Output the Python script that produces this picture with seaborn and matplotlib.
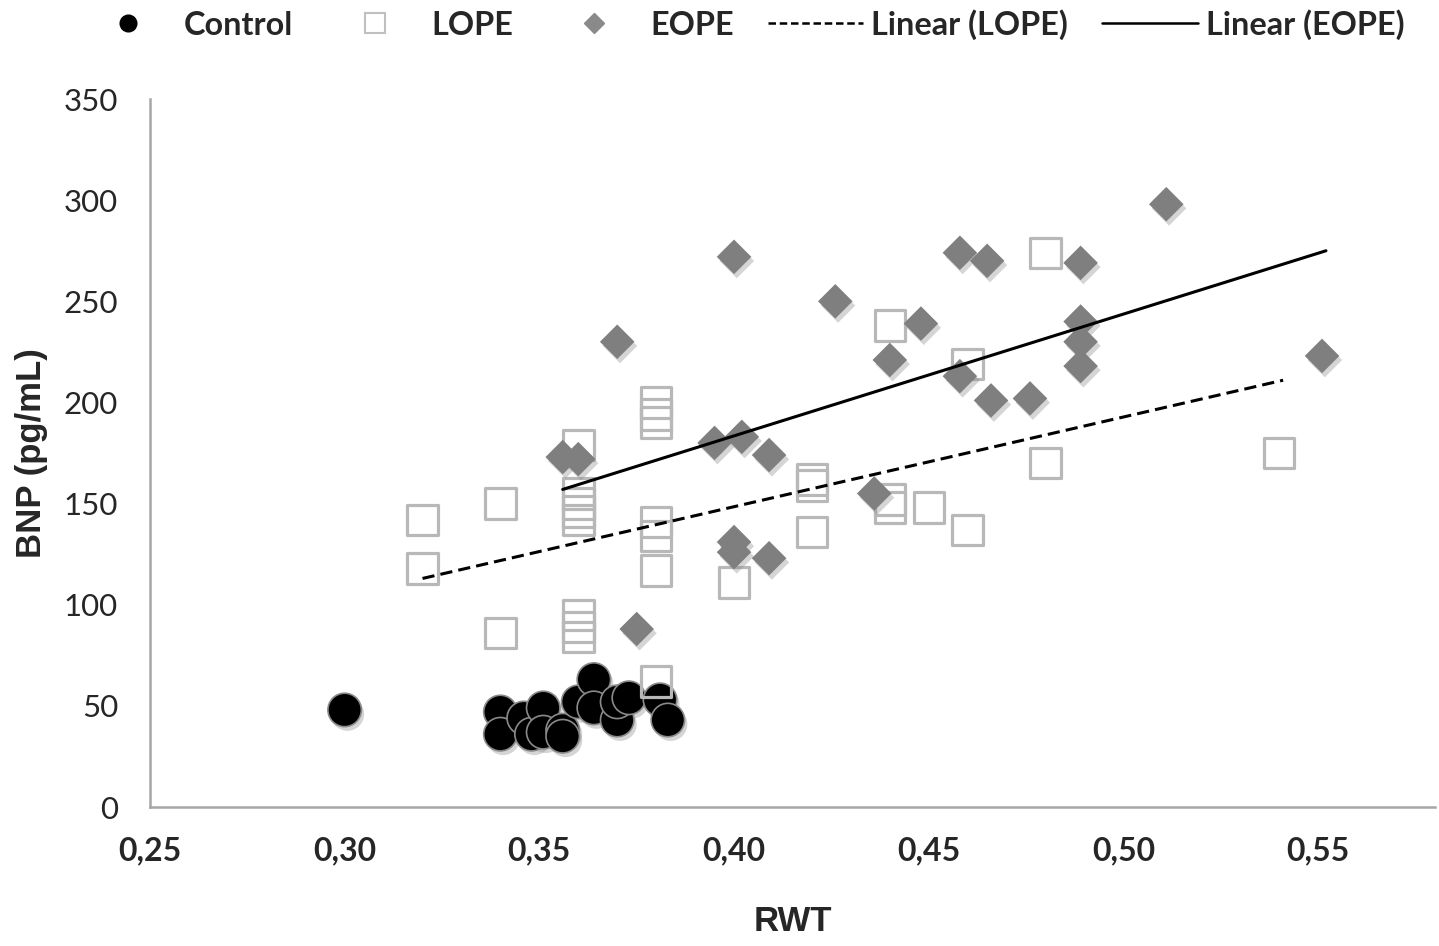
import numpy as np
import pandas as pd
import matplotlib
matplotlib.use('Agg')
import matplotlib.pyplot as plt
import matplotlib.patheffects as pe
from matplotlib.lines import Line2D
import seaborn as sns

# datos (RWT vs BNP)
control_rwt = [0.300, 0.340, 0.340, 0.346, 0.348, 0.351, 0.351, 0.356, 0.356,
               0.360, 0.364, 0.364, 0.370, 0.370, 0.373, 0.381, 0.383]
control_bnp = [48, 47, 36, 44, 36, 49, 37, 38, 35,
               52, 63, 49, 43, 52, 54, 53, 43]

lope_rwt = [0.320, 0.320, 0.340, 0.340, 0.360, 0.360, 0.360, 0.360, 0.360,
            0.360, 0.360, 0.360, 0.380, 0.380, 0.380, 0.380, 0.380, 0.380,
            0.380, 0.400, 0.420, 0.420, 0.420, 0.440, 0.440, 0.440, 0.450,
            0.460, 0.460, 0.480, 0.480, 0.540]
lope_bnp = [142, 118, 150, 86, 179, 155, 150, 146, 142,
            95, 89, 84, 200, 194, 190, 141, 134, 117,
            62, 111, 162, 159, 136, 238, 152, 148, 148,
            219, 137, 274, 170, 175]

eope_rwt = [0.356, 0.360, 0.370, 0.375, 0.395, 0.400, 0.402, 0.400, 0.400,
            0.409, 0.409, 0.426, 0.436, 0.440, 0.448, 0.458, 0.458, 0.465,
            0.466, 0.476, 0.489, 0.489, 0.489, 0.489, 0.511, 0.551]
eope_bnp = [173, 172, 230, 88, 180, 272, 183, 131, 126,
            123, 174, 250, 155, 221, 239, 274, 213, 270,
            201, 202, 269, 240, 230, 218, 298, 223]

# lineas de tendencia (extremos)
lope_fit_rwt = [0.320, 0.541]
lope_fit_bnp = [113, 211]
eope_fit_rwt = [0.356, 0.552]
eope_fit_bnp = [157, 275]

xticks = [0.25, 0.30, 0.35, 0.40, 0.45, 0.50, 0.55]
xticklabels = ['0,25', '0,30', '0,35', '0,40', '0,45', '0,50', '0,55']
yticks = [0, 50, 100, 150, 200, 250, 300, 350]

control = pd.DataFrame({'RWT': control_rwt, 'BNP': control_bnp})
lope = pd.DataFrame({'RWT': lope_rwt, 'BNP': lope_bnp})
eope = pd.DataFrame({'RWT': eope_rwt, 'BNP': eope_bnp})

sns.set_style('white')
plt.rcParams['font.family'] = ['Lato', 'DejaVu Sans']

fig = plt.figure(figsize=(14.39, 9.46), dpi=100)
ax = fig.add_axes([0.1042, 0.1469, 0.8930, 0.7484])

sombra = [pe.SimplePatchShadow(offset=(2, -3), shadow_rgbFace='#888888', alpha=0.35), pe.Normal()]

sns.scatterplot(x='RWT', y='BNP', data=control, ax=ax, marker='o', s=580,
                color='black', edgecolor='#8a8a8a', linewidth=1.2, zorder=3)
ax.collections[-1].set_path_effects(sombra)
sns.scatterplot(x='RWT', y='BNP', data=lope, ax=ax, marker='s', s=480,
                facecolor='none', edgecolor='#b8b8b8', linewidth=2.3, zorder=4)
sns.scatterplot(x='RWT', y='BNP', data=eope, ax=ax, marker='D', s=310,
                color='#7f7f7f', edgecolor='none', linewidth=0, zorder=5)
ax.collections[-1].set_path_effects(sombra)

sns.lineplot(x=lope_fit_rwt, y=lope_fit_bnp, ax=ax, color='black', lw=2.2,
             linestyle=(0, (4, 2)), zorder=6)
sns.lineplot(x=eope_fit_rwt, y=eope_fit_bnp, ax=ax, color='black', lw=2.2, zorder=6)

ax.set_xlim(0.25, 0.58)
ax.set_ylim(0, 350)
ax.set_xticks(xticks)
ax.set_xticklabels(xticklabels, fontsize=23, fontweight='bold')
ax.set_yticks(yticks)
ax.set_yticklabels([str(v) for v in yticks], fontsize=22.5)

for lado in ['top', 'right']:
    ax.spines[lado].set_visible(False)
for lado in ['left', 'bottom']:
    ax.spines[lado].set_color('#a6a6a6')
    ax.spines[lado].set_linewidth(1.8)
ax.tick_params(axis='both', direction='out', length=7, width=1.8, color='#a6a6a6')
ax.tick_params(axis='y', pad=16)
ax.tick_params(axis='x', pad=14)

ax.set_xlabel('RWT', fontsize=25, fontweight='bold', family=['Liberation Sans', 'DejaVu Sans'])
ax.set_ylabel('BNP (pg/mL)', fontsize=25, fontweight='bold', family=['Liberation Sans', 'DejaVu Sans'])
ax.xaxis.set_label_coords(0.5, -0.138)
ax.yaxis.set_label_coords(-0.0794, 0.5)

handles = [
    Line2D([], [], marker='o', color='black', linestyle='none', markersize=12),
    Line2D([], [], marker='s', markerfacecolor='white', markeredgecolor='#c0c0c0',
           linestyle='none', markersize=14, markeredgewidth=1.5),
    Line2D([], [], marker='D', color='#8a8a8a', linestyle='none', markersize=10),
    Line2D([], [], color='black', lw=1.8, linestyle=(0, (3, 1.5))),
    Line2D([], [], color='black', lw=1.8),
]
etiquetas = ['Control', 'LOPE', 'EOPE', 'Linear (LOPE)', 'Linear (EOPE)']
fig.legend(handles, etiquetas, loc='center', bbox_to_anchor=(0.516, 0.974), ncol=5,
           frameon=False, prop={'weight': 'bold', 'size': 23.3}, handlelength=2.95,
           columnspacing=1.05, handletextpad=0.25, borderpad=0)

fig.savefig('out.png', dpi=100)
